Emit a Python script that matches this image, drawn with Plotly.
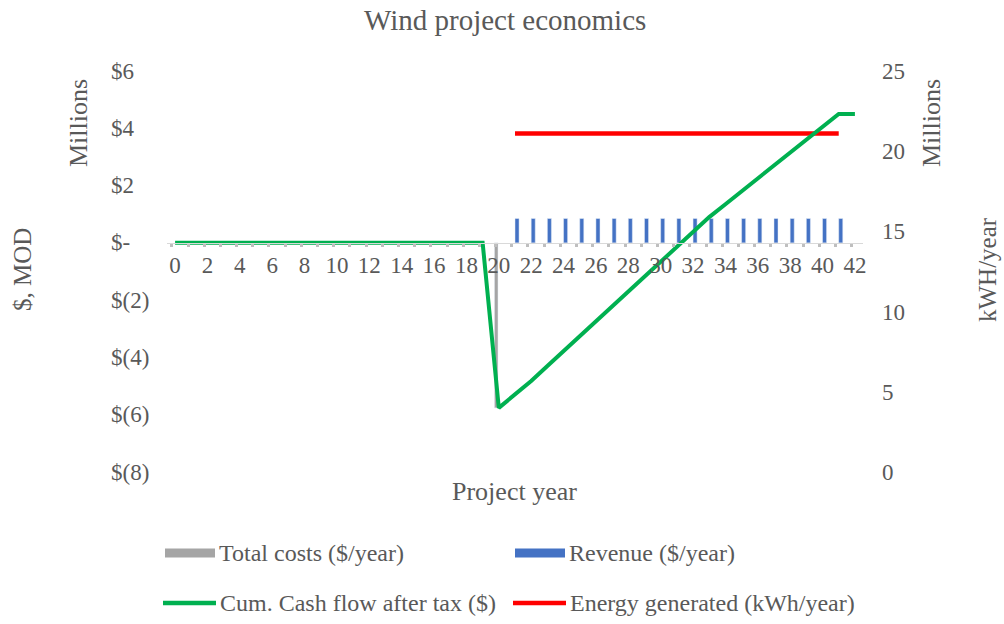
import plotly.graph_objects as go

# ---------------- data (values in millions) ----------------
years = list(range(0, 43))
x_tick_labels = [str(v) for v in range(0, 43, 2)]

cost_years = [20]
total_costs = [-5.76]                      # $M / year

revenue_years = list(range(21, 42))
revenue = [0.85] * 21                      # $M / year

cum_cash_flow = [0.0] * 20 + [
    -5.76, -5.29, -4.82, -4.30, -3.78, -3.26, -2.74, -2.22, -1.70, -1.18, -0.66,
    -0.14, 0.38, 0.90, 1.35, 1.80, 2.25, 2.70, 3.15, 3.60, 4.05, 4.50, 4.50,
]                                          # $M cumulative

energy_years = list(range(21, 42))
energy = [21.1] * 21                       # million kWh / year

left_tick_vals = [6, 4, 2, 0, -2, -4, -6, -8]
left_tick_text = ["$6", "$4", "$2", "$-", "$(2)", "$(4)", "$(6)", "$(8)"]
right_tick_vals = [0, 5, 10, 15, 20, 25]

# ---------------- layout geometry helpers ----------------
W, H = 1004, 624
L, R, T, B = 167, 141, 71, 152
PW, PH = W - L - R, H - T - B


def px(x):
    return (x - L) / PW


def py(y):
    return (H - B - y) / PH


FONT = "Liberation Serif, Times New Roman, serif"
TXT = "#595959"

fig = go.Figure()

fig.add_trace(go.Bar(x=cost_years, y=total_costs, marker_color="#A5A5A5",
                     width=0.22, offset=-0.27, name="Total costs ($/year)",
                     showlegend=False))
fig.add_trace(go.Bar(x=revenue_years, y=revenue, marker_color="#4472C4",
                     width=0.25, offset=0.0, name="Revenue ($/year)",
                     showlegend=False))
fig.add_trace(go.Scatter(x=energy_years, y=energy, mode="lines", yaxis="y2",
                         line=dict(color="#FF0000", width=4.5),
                         name="Energy generated (kWh/year)", showlegend=False))
fig.add_trace(go.Scatter(x=years, y=cum_cash_flow, mode="lines", yaxis="y3",
                         line=dict(color="#00B050", width=4),
                         name="Cum. Cash flow after tax ($)", showlegend=False))

annotations = []
# left tick labels (left aligned, accounting style)
for v, t in zip(left_tick_vals, left_tick_text):
    annotations.append(dict(x=px(109), xref="paper", y=v, yref="y", text=t,
                            showarrow=False, xanchor="left", yanchor="middle",
                            font=dict(family=FONT, size=23, color=TXT)))


def label(x, y, text, size, angle=0):
    return dict(x=px(x), y=py(y), xref="paper", yref="paper", text=text,
                textangle=angle, showarrow=False, xanchor="center", yanchor="middle",
                font=dict(family=FONT, size=size, color=TXT))


annotations += [
    label(505, 20, "Wind project economics", 29),
    label(514, 491, "Project year", 26),
    label(22, 270, "$, MOD", 25, -90),
    label(78, 123, "Millions", 26, -90),
    label(931, 123, "Millions", 26, -90),
    label(987, 270, "kWH/year", 25, -90),
]

# manual legend
legend_items = [
    ("Total costs ($/year)", "#A5A5A5", "rect", 165, 215, 553),
    ("Revenue ($/year)", "#4472C4", "rect", 515, 565, 553),
    ("Cum. Cash flow after tax ($)", "#00B050", "line", 163, 216, 603),
    ("Energy generated (kWh/year)", "#FF0000", "line", 513, 566, 603),
]
shapes = []
for text, color, kind, x0, x1, yc in legend_items:
    if kind == "rect":
        shapes.append(dict(type="rect", xref="paper", yref="paper",
                           x0=px(x0), x1=px(x1), y0=py(yc + 4.5), y1=py(yc - 4.5),
                           fillcolor=color, line=dict(width=0)))
    else:
        shapes.append(dict(type="line", xref="paper", yref="paper",
                           x0=px(x0), x1=px(x1), y0=py(yc), y1=py(yc),
                           line=dict(color=color, width=4.5)))
    annotations.append(dict(x=px(x1 + 2), y=py(yc), xref="paper", yref="paper",
                            text=text, showarrow=False, xanchor="left", yanchor="middle",
                            font=dict(family=FONT, size=24, color=TXT)))

fig.update_layout(
    width=W, height=H,
    margin=dict(l=L, r=R, t=T, b=B),
    paper_bgcolor="white", plot_bgcolor="white",
    barmode="overlay",
    showlegend=False,
    xaxis=dict(range=[-0.5, 42.5], domain=[0, 1], anchor="free", position=8 / 14,
               showline=True, linecolor="#D9D9D9", linewidth=1,
               tickvals=list(range(0, 43, 2)), ticktext=x_tick_labels,
               ticks="", ticklabelstandoff=2,
               tickfont=dict(family=FONT, size=23, color=TXT),
               minor=dict(ticks="outside", tick0=-0.2, dtick=1, ticklen=3,
                          tickwidth=3, tickcolor="#BFBFBF"),
               showgrid=False, zeroline=False),
    yaxis=dict(range=[-8, 6], showticklabels=False, showgrid=False, zeroline=False,
               showline=False, ticks=""),
    yaxis2=dict(range=[0, 25], overlaying="y", side="right", anchor="x",
                tickvals=right_tick_vals, ticks="", ticklabelstandoff=18,
                tickfont=dict(family=FONT, size=23, color=TXT),
                showgrid=False, zeroline=False, showline=False),
    yaxis3=dict(range=[-8, 6], overlaying="y", visible=False),
    annotations=annotations,
    shapes=shapes,
)

fig.write_html("out.html", config={"displayModeBar": False},
               post_script="document.body.style.margin='0';")
